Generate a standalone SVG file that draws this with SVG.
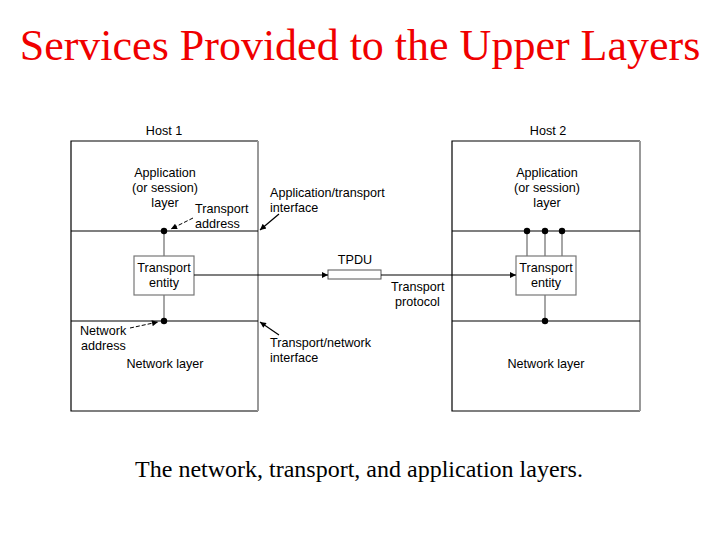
<svg xmlns="http://www.w3.org/2000/svg" width="720" height="540" viewBox="0 0 720 540">
<style>
.t{font-family:"Liberation Sans",Arial,sans-serif;font-size:12.6px;fill:#000}
.m{text-anchor:middle}
.edge{stroke:#000;stroke-width:1.2;fill:none}
.gray{stroke:#999;stroke-width:2;fill:none}
.ent{fill:#fff;stroke:#777;stroke-width:1.2}
.vl{stroke:#888;stroke-width:1.5}
.ln{stroke:#000;stroke-width:1.2;fill:none}
.dash{stroke:#000;stroke-width:1;stroke-dasharray:4,2;fill:none}
</style>
<defs>
<marker id="ah" viewBox="0 0 10 10" refX="10" refY="5" markerWidth="8" markerHeight="6" orient="auto" markerUnits="userSpaceOnUse">
<path d="M0,0 L10,5 L0,10 z" fill="#000"/>
</marker>
</defs>
<rect width="720" height="540" fill="#fff"/>
<text x="360" y="60" text-anchor="middle" font-family="Liberation Serif,'Times New Roman',serif" font-size="44" fill="#f00000">Services Provided to the Upper Layers</text>

<g id="host1">
<text class="t m" x="164" y="135">Host 1</text>
<path class="edge" d="M258,141 H71 V411 H258"/>
<line class="gray" x1="258" y1="141" x2="258" y2="411"/>
<line class="ln" x1="71" y1="231" x2="258" y2="231"/>
<line class="ln" x1="71" y1="321" x2="258" y2="321"/>
<text class="t m" x="165" y="177">Application</text>
<text class="t m" x="165" y="192">(or session)</text>
<text class="t m" x="165" y="207">layer</text>
<text class="t m" x="165" y="368">Network layer</text>
</g>

<g id="host2">
<text class="t m" x="548" y="135">Host 2</text>
<path class="edge" d="M640,141 H452 V411 H640"/>
<line class="gray" x1="640" y1="141" x2="640" y2="411"/>
<line class="ln" x1="452" y1="231" x2="640" y2="231"/>
<line class="ln" x1="452" y1="321" x2="640" y2="321"/>
<text class="t m" x="547" y="177">Application</text>
<text class="t m" x="547" y="192">(or session)</text>
<text class="t m" x="547" y="207">layer</text>
<text class="t m" x="546" y="368">Network layer</text>
</g>

<g id="entity1">
<line class="vl" x1="164" y1="231" x2="164" y2="256"/>
<line class="vl" x1="164" y1="295" x2="164" y2="321"/>
<rect class="ent" x="134" y="256" width="60" height="39"/>
<text class="t m" x="164" y="272">Transport</text>
<text class="t m" x="164" y="287">entity</text>
<circle cx="164" cy="231" r="3.2" fill="#000"/>
<circle cx="164" cy="321" r="3.2" fill="#000"/>
</g>

<g id="entity2">
<line class="vl" x1="527" y1="231" x2="527" y2="256"/>
<line class="vl" x1="545" y1="231" x2="545" y2="256"/>
<line class="vl" x1="562" y1="231" x2="562" y2="256"/>
<line class="vl" x1="545" y1="295" x2="545" y2="321"/>
<rect class="ent" x="516" y="256" width="60" height="39"/>
<text class="t m" x="546" y="272">Transport</text>
<text class="t m" x="546" y="287">entity</text>
<circle cx="527" cy="231" r="3.2" fill="#000"/>
<circle cx="545" cy="231" r="3.2" fill="#000"/>
<circle cx="562" cy="231" r="3.2" fill="#000"/>
<circle cx="545" cy="321" r="3.2" fill="#000"/>
</g>

<g id="tpdu">
<rect x="328" y="270" width="53" height="9" fill="#fff" stroke="#555" stroke-width="1"/>
<text class="t m" x="355" y="264">TPDU</text>
</g>

<g id="connectors">
<line class="ln" x1="194" y1="275" x2="328" y2="275" marker-end="url(#ah)"/>
<line class="ln" x1="381" y1="275" x2="516" y2="275" marker-end="url(#ah)"/>
<line class="dash" x1="193" y1="218" x2="171" y2="229" marker-end="url(#ah)"/>
<line class="ln" x1="279" y1="214" x2="260" y2="230" marker-end="url(#ah)"/>
<line class="dash" x1="130" y1="328" x2="158" y2="322" marker-end="url(#ah)"/>
<line class="ln" x1="279" y1="335" x2="260" y2="322" marker-end="url(#ah)"/>
</g>

<g id="labels">
<text class="t" x="195" y="213">Transport</text>
<text class="t" x="195" y="228">address</text>
<text class="t" x="270" y="197">Application/transport</text>
<text class="t" x="270" y="212">interface</text>
<text class="t" x="391" y="291">Transport</text>
<text class="t" x="395" y="306">protocol</text>
<text class="t" x="80" y="335">Network</text>
<text class="t" x="81" y="350">address</text>
<text class="t" x="270" y="347">Transport/network</text>
<text class="t" x="270" y="362">interface</text>
</g>

<text x="359" y="477" text-anchor="middle" font-family="Liberation Serif,'Times New Roman',serif" font-size="24" fill="#000">The network, transport, and application layers.</text>
</svg>
